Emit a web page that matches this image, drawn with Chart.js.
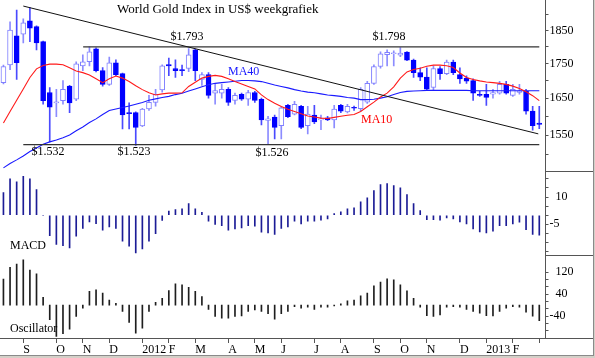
<!DOCTYPE html>
<html><head><meta charset="utf-8">
<script src="https://cdn.jsdelivr.net/npm/chart.js@4.4.1/dist/chart.umd.min.js"></script>
<style>
html,body{margin:0;padding:0;background:#d4d0c8;width:595px;height:358px;overflow:hidden;}
#wrap{position:absolute;left:0;top:0;width:593px;height:355px;background:#fff;border-right:1px solid #8a8a8a;border-bottom:1px solid #8a8a8a;}
canvas{position:absolute;left:0;top:0;}
</style></head><body>
<div id="wrap"><canvas id="c" width="593" height="355"></canvas></div>
<script>
// weekly candles, Aug 2011 .. Feb 2013 (index = week number)
const openP = [1694,1746,1834,1839,1881,1863,1816,1666,1637,1643,
 1684,1647,1743,1755,1794,1729,1689,1752,1720,1610,
 1610,1574,1620,1638,1673,1747,1735,1732,1735,1791,
 1703,1717,1664,1664,1675,1644,1661,1647,1666,1647,
 1589,1598,1575,1630,1606,1627,1575,1603,1590,1596,
 1590,1630,1612,1624,1621,1639,1692,1741,1776,1779,
 1775,1784,1760,1723,1710,1680,1735,1720,1754,1717,
 1707,1700,1660,1661,1661,1664,1689,1658,1666,1669,
 1614,1582];
const highP = [1745,1878,1916,1888,1924,1865,1818,1680,1675,1700,
 1686,1755,1776,1800,1797,1738,1769,1761,1722,1637,
 1612,1622,1658,1675,1746,1766,1761,1745,1795,1793,
 1723,1723,1689,1689,1680,1664,1664,1672,1669,1650,
 1600,1603,1625,1633,1641,1630,1627,1630,1603,1600,
 1630,1633,1633,1628,1680,1698,1746,1785,1791,1788,
 1798,1786,1763,1737,1737,1743,1741,1760,1760,1737,
 1714,1705,1669,1689,1675,1698,1698,1689,1689,1675,
 1627,1627];
const lowP = [1690,1732,1703,1812,1816,1791,1633,1532,1599,1633,
 1610,1643,1729,1743,1725,1684,1686,1714,1566,1566,
 1523,1572,1616,1628,1667,1714,1709,1714,1726,1700,
 1686,1650,1633,1650,1630,1633,1644,1630,1638,1577,
 1526,1540,1540,1596,1604,1567,1553,1580,1564,1588,
 1569,1610,1609,1616,1614,1635,1689,1736,1743,1743,
 1770,1758,1709,1700,1672,1672,1703,1717,1717,1692,
 1692,1644,1655,1630,1650,1661,1661,1655,1661,1606,
 1563,1567];
const closeP = [1741,1852,1752,1875,1858,1812,1643,1625,1640,1675,
 1637,1749,1755,1785,1729,1689,1752,1717,1604,1607,
 1570,1620,1638,1661,1743,1743,1729,1729,1776,1729,
 1717,1658,1671,1675,1638,1658,1647,1666,1644,1590,
 1593,1570,1623,1599,1633,1570,1606,1585,1593,1590,
 1620,1614,1627,1622,1675,1692,1741,1779,1783,1782,
 1781,1760,1723,1710,1675,1735,1720,1754,1723,1705,
 1698,1664,1658,1652,1666,1689,1664,1675,1670,1614,
 1575,1578];
const ma10 = [1582,1613,1644,1676,1709,1734,1744,1748,1748,1746,
 1737,1728,1723,1716,1705,1694,1705,1713,1707,1697,
 1685,1674,1665,1659,1662,1664,1664,1665,1683,1695,
 1707,1712,1715,1712,1705,1697,1690,1683,1676,1659,
 1646,1636,1627,1619,1613,1607,1601,1598,1595,1594,
 1597,1600,1603,1605,1613,1626,1639,1653,1664,1682,
 1707,1725,1732,1736,1742,1745,1745,1743,1738,1722,
 1709,1703,1699,1696,1694,1692,1689,1684,1677,1668,
 1657,1643];
const ma40 = [1466,1477,1486,1496,1507,1516,1526,1532,1537,1543,
 1550,1561,1571,1583,1593,1605,1616,1620,1624,1628,
 1633,1638,1644,1648,1652,1655,1660,1664,1670,1676,
 1682,1688,1692,1694,1696,1698,1700,1700,1699,1697,
 1692,1687,1683,1679,1674,1670,1667,1665,1662,1659,
 1657,1655,1652,1650,1646,1646,1647,1650,1654,1660,
 1666,1669,1670,1671,1672,1672,1672,1672,1672,1672,
 1672,1671,1671,1671,1671,1671,1671,1671,1671,1671,
 1671,1671];
const macd = [12.5,20,18.3,21.4,20,14.1,-0.3,-11.2,-16.1,-16.7,
 -18,-11.5,-7.3,-3.7,-4.6,-8.2,-6.4,-7.3,-14.3,-17,
 -20.7,-18.5,-14.3,-10.1,-2.9,2.2,3.1,3.5,6.4,3.5,
 1.6,-3.3,-5.1,-5.7,-8.2,-7.5,-7,-5.7,-6,-9.3,
 -9.7,-10.6,-7.3,-6.4,-3.3,-4.8,-3.3,-3.3,-2.7,-2,
 0.9,1.8,3.5,4,7.3,9.5,13.6,16.9,17.4,16.3,
 15,11.4,6.4,2.6,-2.4,-2.4,-2.7,-1.5,-2,-3.7,
 -4.8,-7.5,-9.2,-9.7,-8.8,-5.7,-5.7,-4.8,-3.8,-8,
 -10.5,-11];
const osc = [95,138,150,165,128,114,29,-53,-114,-104,
 -87,-41,-11,50,56,44,19,7,-23,-63,
 -102,-84,-23,10,25,53,78,74,65,50,
 31,-15,-41,-47,-47,-41,-39,-23,-17,-23,
 -31,-51,-31,-23,-5,-11,-7,-15,-7,-7,
 -3,5,16,19,34,44,70,84,96,92,
 74,52,25,-7,-38,-41,-35,-7,-5,-7,
 -15,-23,-29,-38,-39,-23,-11,-5,-7,-25,
 -40,-56];
// trend lines (week index, price)
const downTrendX = [3, 80.85], downTrendY = [1929, 1553];
const resistX = [12.05, 81], resistY = [1800, 1800];
const supportX = [3, 81], supportY = [1525, 1525];
// axis ticks
const monthTickIdx = [3,8,12,16,21,25,29,34,38,42,47,51,56,60,64,69,73,77,81];
const monthTickLbl = ['S','O','N','D','2012','F','M','A','M','J','J','A','S','O','N','D','2013','F',''];
const priceTicks = [1500,1550,1600,1650,1700,1750,1800,1850,1900];
const priceLabeled = [1550,1650,1750,1850];
const macdTicks = [-20,-15,-10,-5,0,5,10,15,20];
const macdLabeled = [10,-5];
const oscTicks = [-93.33,-66.67,-40,-13.33,13.33,40,66.67,93.33,120];
const oscLabeled = [120,40,-40];

const idx = openP.map((_, i) => i);
const up = i => closeP[i] >= openP[i];
const pts = (xs, ys) => xs.map((x, k) => ({x, y: ys[k]}));

Chart.defaults.font.family = '"Liberation Serif","Times New Roman",serif';
Chart.defaults.font.size = 12;
Chart.defaults.color = '#000';

const zeroPad = s => { s.paddingTop = 0; s.paddingBottom = 0; s.paddingLeft = 0; s.paddingRight = 0; };
const AXW = 47.5;
function yAxis(extra) {
  return Object.assign({
    position: 'right', stack: 'panels', offset: false, beginAtZero: false,
    grid: {drawOnChartArea: false, drawTicks: true, tickLength: 3, color: '#555'},
    border: {display: true, color: '#555', width: 1},
    ticks: {autoSkip: false, padding: 1, color: '#000', font: {size: 12}},
    afterFit(s) { s.width = AXW; zeroPad(s); }
  }, extra);
}

const deco = {
  id: 'deco',
  afterDraw(chart) {
    const {ctx, chartArea: a, scales} = chart;
    const W = chart.width;
    ctx.save();
    ctx.strokeStyle = '#555'; ctx.lineWidth = 1;
    ctx.beginPath();
    const d1 = Math.round(scales.y2.top) + 0.5, d2 = Math.round(scales.y3.top) + 0.5, b = Math.round(a.bottom) + 0.5;
    ctx.moveTo(a.right, d1); ctx.lineTo(W, d1);
    ctx.moveTo(a.right, d2); ctx.lineTo(W, d2);
    ctx.moveTo(a.right, b); ctx.lineTo(W, b);
    ctx.stroke();
    ctx.textBaseline = 'middle';
    ctx.fillStyle = '#000';
    ctx.font = '13px "Liberation Serif"';
    ctx.textAlign = 'left';
    ctx.fillText('World Gold Index in US$ weekgrafiek', 117, 10);
    ctx.font = '12px "Liberation Serif"';
    ctx.textAlign = 'center';
    ctx.fillText('$1.532', 48, 152);
    ctx.fillText('$1.523', 134, 152);
    ctx.fillText('$1.526', 272, 153);
    ctx.fillText('$1.793', 187, 37);
    ctx.fillText('$1.798', 389, 37);
    ctx.textAlign = 'left';
    ctx.fillText('MACD', 10, 246);
    ctx.fillText('Oscillator', 10, 329);
    ctx.fillStyle = '#1a1aff';
    ctx.fillText('MA40', 228, 72);
    ctx.fillStyle = '#ff0000';
    ctx.fillText('MA10', 361, 120);
    ctx.restore();
  }
};

new Chart(document.getElementById('c'), {
  type: 'bar',
  data: {
    datasets: [
      { label: 'wick', yAxisID: 'y', order: 6, grouped: false, barThickness: 1,
        data: idx.map(i => ({x: i, y: [lowP[i], highP[i]]})),
        backgroundColor: idx.map(i => up(i) ? '#8c8cff' : '#4a4aff') },
      { label: 'body', yAxisID: 'y', order: 5, grouped: false, barThickness: 5, minBarLength: 1,
        borderSkipped: false, borderWidth: 1,
        data: idx.map(i => ({x: i, y: [openP[i], closeP[i]]})),
        backgroundColor: idx.map(i => up(i) ? '#ffffff' : '#0000ff'),
        borderColor: idx.map(i => up(i) ? '#8080ff' : '#0000ff') },
      { type: 'line', label: 'MA10', yAxisID: 'y', order: 3, data: pts(idx, ma10),
        borderColor: '#ff1a1a', borderWidth: 1.1, pointRadius: 0, tension: 0 },
      { type: 'line', label: 'MA40', yAxisID: 'y', order: 3, data: pts(idx, ma40),
        borderColor: '#1a1aff', borderWidth: 1.1, pointRadius: 0, tension: 0 },
      { type: 'line', label: 'trend', yAxisID: 'y', order: 2, data: pts(downTrendX, downTrendY),
        borderColor: '#111', borderWidth: 1, pointRadius: 0 },
      { type: 'line', label: 'resist', yAxisID: 'y', order: 2, data: pts(resistX, resistY),
        borderColor: '#333', borderWidth: 1.4, pointRadius: 0 },
      { type: 'line', label: 'support', yAxisID: 'y', order: 2, data: pts(supportX, supportY),
        borderColor: '#333', borderWidth: 1.4, pointRadius: 0 },
      { label: 'MACD', yAxisID: 'y2', order: 4, grouped: false, barThickness: 1,
        data: pts(idx, macd), backgroundColor: '#1c1c96' },
      { label: 'Oscillator', yAxisID: 'y3', order: 4, grouped: false, barThickness: 1,
        data: pts(idx, osc), backgroundColor: '#1e1e1e' }
    ]
  },
  options: {
    responsive: false, animation: false,
    layout: {padding: 0},
    plugins: {legend: {display: false}, tooltip: {enabled: false}},
    scales: {
      x: {
        type: 'linear', position: 'bottom', min: -0.52, max: 81.94, offset: false,
        grid: {drawOnChartArea: false, drawTicks: true, tickLength: 5, color: '#555', offset: false},
        border: {display: true, color: '#555', width: 1},
        ticks: {autoSkip: false, maxRotation: 0, align: 'start', padding: 0, color: '#000', font: {size: 12},
          callback: v => { const k = monthTickIdx.indexOf(v); return k >= 0 ? monthTickLbl[k] : ''; }},
        afterBuildTicks(s) { s.ticks = monthTickIdx.map(v => ({value: v})); },
        afterFit(s) { s.height = 17; zeroPad(s); }
      },
      y: yAxis({
        type: 'logarithmic', min: 1458.2, max: 1948.9, stackWeight: 171,
        afterBuildTicks(s) { s.ticks = priceTicks.map(v => ({value: v})); },
        ticks: {autoSkip: false, padding: 1, color: '#000', font: {size: 12},
          callback: v => priceLabeled.includes(v) ? String(v) : ''}
      }),
      y2: yAxis({
        type: 'linear', min: -21.6, max: 24.3, stackWeight: 83.5,
        afterBuildTicks(s) { s.ticks = macdTicks.map(v => ({value: v})); },
        ticks: {autoSkip: false, padding: 1, color: '#000', font: {size: 12},
          callback: v => macdLabeled.includes(v) ? (v < 0 ? String(v) : '\u2002' + v) : ''}
      }),
      y3: yAxis({
        type: 'linear', min: -119.3, max: 184.4, stackWeight: 83.5,
        afterBuildTicks(s) { s.ticks = oscTicks.map(v => ({value: v})); },
        ticks: {autoSkip: false, padding: 1, color: '#000', font: {size: 12},
          callback: v => oscLabeled.includes(v) ? (v < 0 ? String(v) : '\u2002' + v) : ''}
      })
    }
  },
  plugins: [deco]
});
</script>
</body></html>
